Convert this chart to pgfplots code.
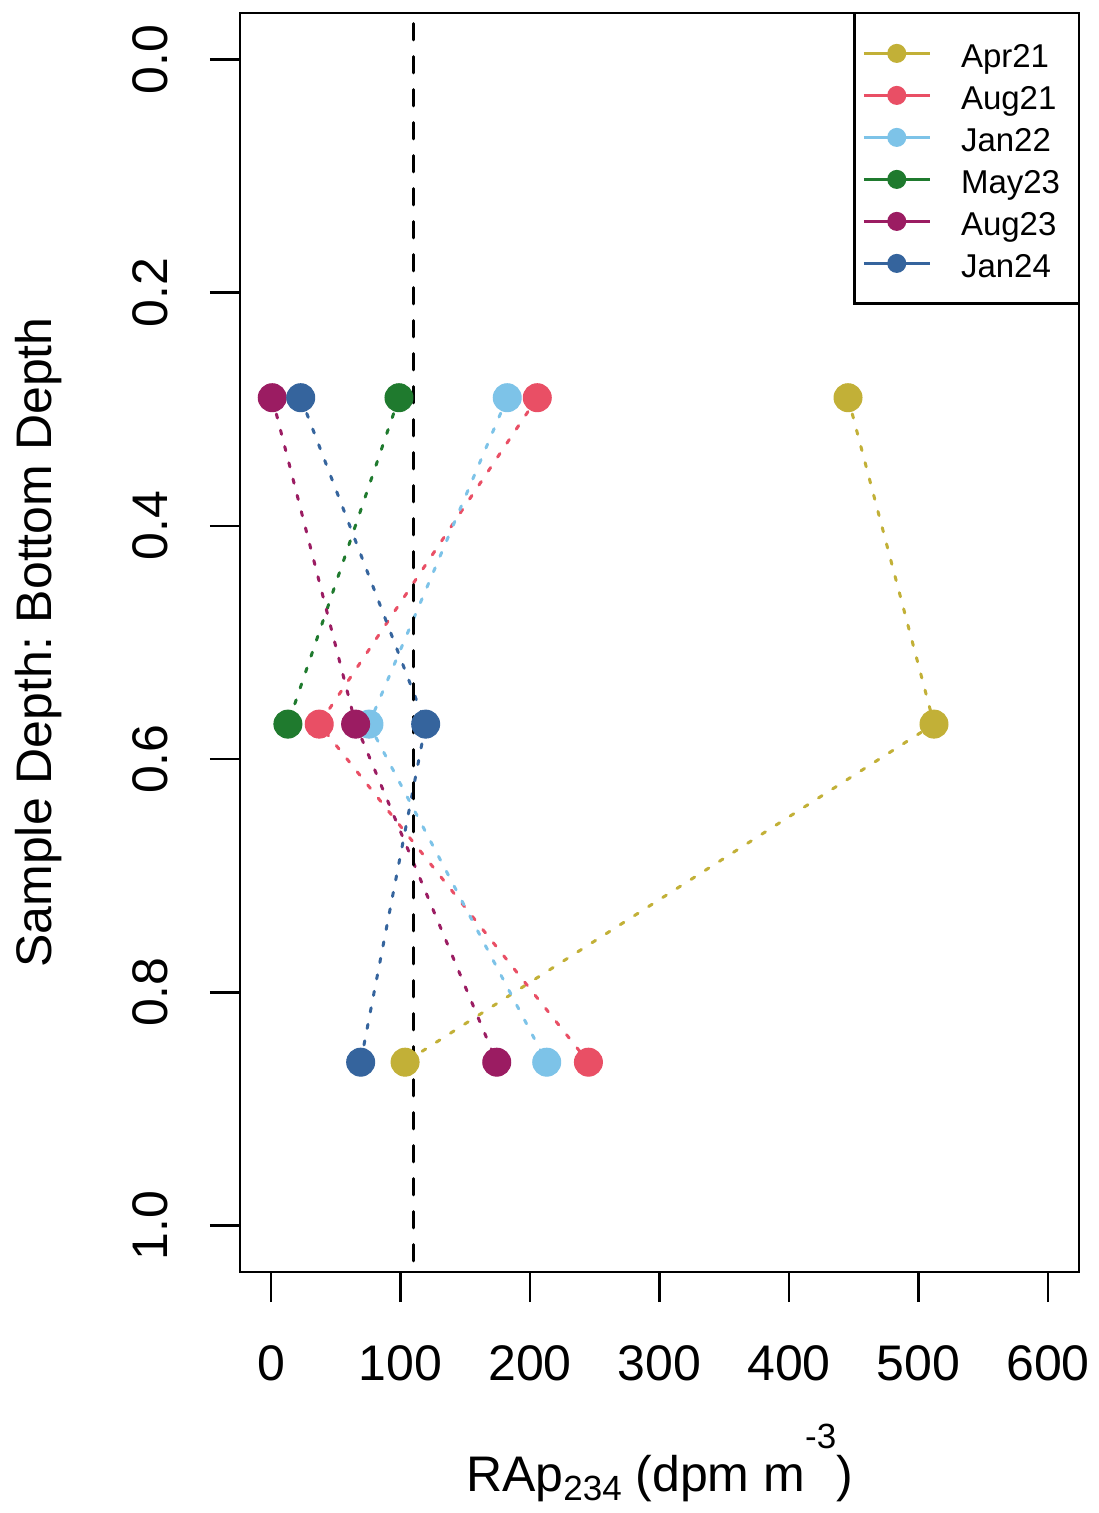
\documentclass[border=0pt]{standalone}
\usepackage{fontspec}
\setmainfont{Liberation Sans}
\usepackage{pgfplots}
\pgfplotsset{compat=1.18}
\definecolor{cApr}{HTML}{C2B037}
\definecolor{cAug}{HTML}{E94F65}
\definecolor{cJan}{HTML}{7DC3E8}
\definecolor{cMay}{HTML}{1F7A2E}
\definecolor{cAugb}{HTML}{9B1C62}
\definecolor{cJanb}{HTML}{35649D}
\pgfplotsset{
  ser/.style={color=#1, line width=1.5bp, dash pattern=on 2.1bp off 6.3bp, line cap=round,
    mark=*, mark size=7bp, mark options={solid, line width=0.5bp, fill=#1}},
}
\begin{document}
\frenchspacing
\begin{tikzpicture}
\useasboundingbox (-120bp,-120.5bp) rectangle (429.5bp,636bp);
\begin{axis}[
  at={(0,0)}, anchor=south west,
  scale only axis, width=419.5bp, height=629.5bp,
  xmin=-24, xmax=624, ymin=-0.04, ymax=1.04, y dir=reverse,
  xtick={0,100,200,300,400,500,600}, ytick={0,0.2,0.4,0.6,0.8,1},
  xtick pos=left, ytick pos=left, tick align=outside, major tick length=15bp,
  axis line style={line width=1.35bp},
  every tick/.style={black, line width=1.35bp},
  /pgf/number format/assume math mode=true,
  tick label style={font=\fontsize{25bp}{30bp}\selectfont},
  xticklabel style={anchor=center},
  xticklabel shift=30.5bp,
  yticklabel style={rotate=90, anchor=center, /pgf/number format/.cd, fixed, fixed zerofill, precision=1},
  yticklabel shift=30bp,
  label style={font=\fontsize{25bp}{30bp}\selectfont},
  xlabel={RAp\raisebox{-4.75bp}{\fontsize{17.5bp}{20bp}\selectfont 234} (dpm m\raisebox{21.3bp}{\fontsize{17.5bp}{20bp}\selectfont -3})},
  ylabel={Sample Depth: Bottom Depth},
  xlabel style={at={(axis description cs:0.5,-0.17395)}, anchor=base},
  ylabel style={at={(axis description cs:-0.22408,0.5)}, anchor=base},
  legend cell align=left,
  legend style={at={(axis description cs:1,1)}, anchor=north east, draw=black, line width=1.35bp,
    outer sep=0pt, fill=white, inner xsep=4bp, inner ysep=13.2bp, row sep=7bp, column sep=15bp,
    font=\fontsize{16.5bp}{19.8bp}\selectfont,
    nodes={inner sep=0pt, outer sep=0pt, text height=14bp, text depth=0pt, text width=55bp, align=left}},
  legend image code/.code={
    \draw[#1, solid, line width=1.25bp, line cap=butt] (0bp,0bp) -- (33bp,0bp);
    \fill[#1, solid] (16.5bp,0bp) circle[radius=4bp];
  },
]
\addplot[ser=cApr] coordinates {(445.6,0.29) (512,0.57) (103.5,0.86)};
\addlegendentry{Apr21}
\addplot[ser=cAug] coordinates {(205.6,0.29) (37.2,0.57) (245.1,0.86)};
\addlegendentry{Aug21}
\addplot[ser=cJan] coordinates {(182.4,0.29) (75.6,0.57) (212.9,0.86)};
\addlegendentry{Jan22}
\addplot[ser=cMay] coordinates {(98.8,0.29) (13.0,0.57)};
\addlegendentry{May23}
\addplot[ser=cAugb] coordinates {(0.9,0.29) (65.3,0.57) (174.3,0.86)};
\addlegendentry{Aug23}
\addplot[ser=cJanb] coordinates {(22.9,0.29) (119.4,0.57) (69.2,0.86)};
\addlegendentry{Jan24}
\addplot[black, line width=1.35bp, dash pattern=on 8.25bp off 8.25bp, dash phase=11.25bp, line cap=round, forget plot] coordinates {(110,-0.04) (110,1.04)};
\end{axis}
\end{tikzpicture}
\end{document}
